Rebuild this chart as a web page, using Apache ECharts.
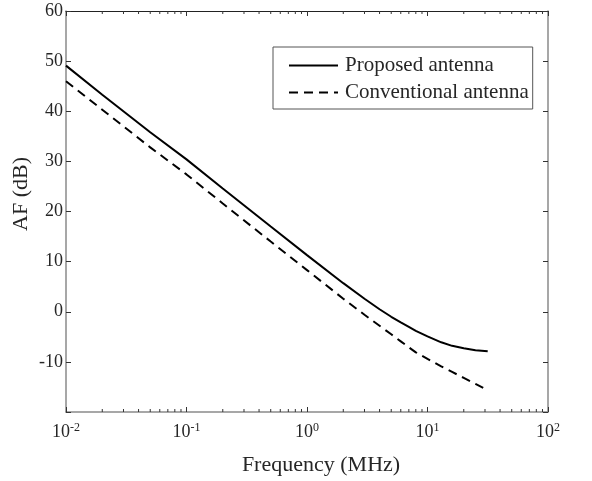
<!DOCTYPE html>
<html>
<head>
<meta charset="utf-8">
<script src="https://cdn.jsdelivr.net/npm/echarts@6/dist/echarts.min.js"></script>
<style>
html,body{margin:0;padding:0;background:#fff;}
#chart{width:592px;height:481px;}
</style>
</head>
<body>
<div id="chart"></div>
<script>
// Frequency (MHz) sample points
const freqProposed = [0.01, 0.02, 0.05, 0.1, 0.2, 0.5, 1, 2, 3, 4, 5, 6, 7, 8, 10, 13, 16, 20, 25, 31.6];
const afProposed   = [49.1, 43.3, 35.8, 30.4, 24.6, 17.0, 11.3, 5.7, 2.6, 0.5, -1.0, -2.1, -3.0, -3.8, -4.9, -6.1, -6.8, -7.3, -7.7, -7.9];
const freqConventional = [0.01, 0.02, 0.05, 0.1, 0.2, 0.5, 1, 2, 3, 4, 5, 6, 7, 8, 10, 13, 16, 20, 25, 29];
const afConventional   = [46.0, 40.3, 32.8, 27.4, 21.6, 14.0, 8.3, 2.6, -0.6, -2.8, -4.5, -5.9, -7.1, -8.1, -9.4, -10.9, -12.0, -13.2, -14.4, -15.2];
const seriesNames = ['Proposed antenna', 'Conventional antenna'];
const yTicks = [-20, -10, 0, 10, 20, 30, 40, 50, 60];
const xDecades = [0.01, 0.1, 1, 10, 100];
const minorTicks = [0.02,0.03,0.04,0.05,0.06,0.07,0.08,0.09,
                    0.2,0.3,0.4,0.5,0.6,0.7,0.8,0.9,
                    2,3,4,5,6,7,8,9,
                    20,30,40,50,60,70,80,90];
const xTitle = 'Frequency (MHz)';
const yTitle = 'AF (dB)';

const FONT = '"Liberation Serif", "Times New Roman", serif';
const TXT = '#262626';
const AXC = '#8a8a8a';

const chart = echarts.init(document.getElementById('chart'));
const yMin = yTicks[0], yMax = yTicks[yTicks.length - 1];

const option = {
  animation: false,
  backgroundColor: '#ffffff',
  grid: { left: 66, right: 44, top: 11, bottom: 69, show: false },
  legend: {
    show: true,
    orient: 'vertical',
    left: 273, top: 47,
    padding: [8, 4, 6, 15],
    itemGap: 6,
    itemWidth: 49, itemHeight: 14,
    borderColor: '#555555', borderWidth: 1,
    itemStyle: { opacity: 0, borderWidth: 0 },
    textStyle: { fontFamily: FONT, fontSize: 21, color: TXT, padding: [0,0,0,2] },
    data: seriesNames
  },
  xAxis: [{
    type: 'log', logBase: 10, min: xDecades[0], max: xDecades[xDecades.length-1],
    position: 'bottom',
    axisLine: { show: true, onZero: false, lineStyle: { color: AXC, width: 1.5 } },
    axisTick: { show: true, inside: true, length: 5, lineStyle: { color: '#333' } },
    splitLine: { show: false },
    axisLabel: {
      margin: 10,
      formatter: v => '{b|10}{s|' + Math.round(Math.log10(v)) + '}',
      rich: {
        b: { fontFamily: FONT, fontSize: 18, color: TXT },
        s: { fontFamily: FONT, fontSize: 12, color: TXT, padding: [0, 0, 9, 0] }
      }
    }
  }, {
    type: 'log', logBase: 10, min: xDecades[0], max: xDecades[xDecades.length-1],
    position: 'top',
    axisLine: { show: true, onZero: false, lineStyle: { color: '#222', width: 1.2 } },
    axisTick: { show: true, inside: true, length: 5, lineStyle: { color: '#333' } },
    axisLabel: { show: false }, splitLine: { show: false }
  }],
  yAxis: [{
    type: 'value', min: yMin, max: yMax, interval: 10, position: 'left',
    axisLine: { show: true, onZero: false, lineStyle: { color: AXC, width: 1.5 } },
    axisTick: { show: true, inside: true, length: 5, lineStyle: { color: '#333' } },
    splitLine: { show: false },
    axisLabel: {
      margin: 3, fontFamily: FONT, fontSize: 18, color: TXT,
      formatter: v => (v === yMin ? '' : String(v))
    }
  }, {
    type: 'value', min: yMin, max: yMax, interval: 10, position: 'right',
    axisLine: { show: true, onZero: false, lineStyle: { color: AXC, width: 1.5 } },
    axisTick: { show: true, inside: true, length: 5, lineStyle: { color: '#333' } },
    axisLabel: { show: false }, splitLine: { show: false }
  }],
  graphic: [
    { type: 'text', x: 321, y: 465, style: { text: xTitle, fontFamily: FONT, fontSize: 22, fill: TXT, align: 'center', verticalAlign: 'middle' } },
    { type: 'text', x: 21, y: 194, rotation: Math.PI / 2, style: { text: yTitle, fontFamily: FONT, fontSize: 22, fill: TXT, align: 'center', verticalAlign: 'middle' } }
  ],
  series: [
    {
      name: seriesNames[0], type: 'line', xAxisIndex: 0, yAxisIndex: 0,
      data: freqProposed.map((f, i) => [f, afProposed[i]]),
      showSymbol: false, symbol: 'none', smooth: false,
      lineStyle: { color: '#000', width: 2, type: 'solid' },
      itemStyle: { color: '#000' }
    },
    {
      name: seriesNames[1], type: 'line', xAxisIndex: 0, yAxisIndex: 0,
      data: freqConventional.map((f, i) => [f, afConventional[i]]),
      showSymbol: false, symbol: 'none', smooth: false,
      lineStyle: { color: '#000', width: 2, type: [9, 6] },
      itemStyle: { color: '#000' }
    },
    {
      name: 'minorTicks', type: 'custom', xAxisIndex: 0, yAxisIndex: 0,
      silent: true, clip: false,
      data: minorTicks.map(f => [f, yMin]),
      renderItem: (params, api) => {
        const f = api.value(0);
        const b = api.coord([f, yMin]);
        const t = api.coord([f, yMax]);
        const st = { stroke: '#333', lineWidth: 1 };
        return { type: 'group', children: [
          { type: 'line', shape: { x1: b[0], y1: b[1], x2: b[0], y2: b[1] - 3 }, style: st },
          { type: 'line', shape: { x1: t[0], y1: t[1], x2: t[0], y2: t[1] + 3 }, style: st }
        ]};
      }
    }
  ]
};
chart.setOption(option);
</script>
</body>
</html>
